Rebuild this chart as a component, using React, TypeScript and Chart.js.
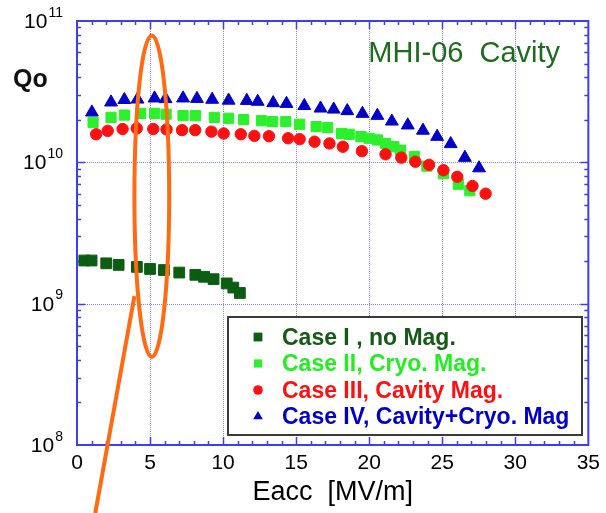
import React, { useEffect, useRef } from "react";
import { Chart, registerables } from "chart.js";

Chart.register(...registerables);

// ---------- data ----------
const xTickValues = [0, 5, 10, 15, 20, 25, 30, 35];
const xGridValues = [5, 10, 15, 20, 25, 30];
const yTickValues = [1e8, 1e9, 1e10, 1e11];
const yGridValues = [1e9, 1e10];
const yTickBase = "10";
const yTickExponents = ["8", "9", "10", "11"];
const xTitle = "Eacc  [MV/m]";
const yTitle = "Qo";
const chartNote = "MHI-06  Cavity";

const seriesLabels = [
  "Case I , no Mag.",
  "Case II, Cryo. Mag.",
  "Case III, Cavity Mag.",
  "Case IV, Cavity+Cryo. Mag",
];

const case1E = [0.5, 1.0, 2.0, 2.85, 4.1, 5.0, 5.95, 7.0, 8.1, 8.7, 9.35, 10.25, 10.7, 11.15];
const case1Q = [2.02e9, 2.02e9, 1.93e9, 1.88e9, 1.82e9, 1.76e9, 1.73e9, 1.66e9, 1.6e9, 1.55e9, 1.49e9, 1.39e9, 1.3e9, 1.19e9];

const case2E = [1.1, 2.33, 3.24, 4.36, 5.31, 6.1, 7.26, 8.1, 9.4, 10.38, 11.4, 12.64, 13.39, 14.29, 15.24, 16.37, 17.16, 18.11, 18.63, 19.43, 19.99, 20.56, 21.12, 21.69, 22.14, 23.09, 23.95, 25.08, 26.1, 26.89];
const case2Q = [1.92e10, 2.08e10, 2.16e10, 2.22e10, 2.22e10, 2.19e10, 2.14e10, 2.14e10, 2.08e10, 2.05e10, 2.01e10, 1.97e10, 1.94e10, 1.94e10, 1.86e10, 1.79e10, 1.76e10, 1.6e10, 1.58e10, 1.52e10, 1.48e10, 1.44e10, 1.36e10, 1.29e10, 1.22e10, 1.1e10, 9.4e9, 8.3e9, 7.0e9, 6.3e9];

const case3E = [1.31, 2.1, 3.12, 4.09, 5.22, 6.13, 7.19, 8.09, 9.2, 10.04, 11.21, 12.14, 13.14, 14.45, 15.24, 16.26, 17.28, 18.2, 19.5, 21.12, 22.2, 23.16, 24.1, 25.08, 26.03, 27.07, 27.97];
const case3Q = [1.58e10, 1.67e10, 1.72e10, 1.74e10, 1.72e10, 1.71e10, 1.69e10, 1.69e10, 1.65e10, 1.6e10, 1.58e10, 1.54e10, 1.53e10, 1.48e10, 1.46e10, 1.4e10, 1.36e10, 1.29e10, 1.2e10, 1.14e10, 1.08e10, 1.01e10, 9.6e9, 8.8e9, 7.9e9, 6.8e9, 6.0e9];

const case4E = [1.02, 2.33, 3.24, 4.14, 5.31, 6.06, 7.26, 8.21, 9.25, 10.38, 11.62, 12.37, 13.43, 14.34, 15.56, 16.67, 17.57, 18.5, 19.54, 20.56, 21.55, 22.64, 23.68, 24.65, 25.58, 26.55, 27.52];
const case4Q = [2.26e10, 2.66e10, 2.77e10, 2.79e10, 2.84e10, 2.81e10, 2.84e10, 2.82e10, 2.78e10, 2.74e10, 2.73e10, 2.69e10, 2.63e10, 2.6e10, 2.51e10, 2.41e10, 2.37e10, 2.31e10, 2.21e10, 2.14e10, 1.95e10, 1.83e10, 1.68e10, 1.52e10, 1.35e10, 1.08e10, 9.1e9];

// annotation (orange ellipse and stroke) in data units
const ellipseCenterE = 5.12;
const ellipseHalfWidthE = 1.19;
const ellipseTopQ = 7.9e10;
const ellipseBottomQ = 4.2e8;
const strokeStart = { e: 1.25, q: 3.3e7 };
const strokeEnd = { e: 3.93, q: 1.13e9 };

// ---------- styles ----------
const FONT = "Arial, 'Liberation Sans', Helvetica, sans-serif";
const AXIS_COLOR = "#3d3df2";
const GRID_COLOR = "#8585f0";
const seriesColors = ["#0b5d12", "#2bf02b", "#ff1010", "#0000c8"];
const textColors = ["#145a14", "#22ee22", "#ff1010", "#0000c8"];
const seriesStyles = ["rect", "rect", "circle", "triangle"];
const seriesRadius = [7.6, 7.2, 5.7, 7.4];
const legendRadius = [6.2, 5.8, 4.8, 5.6];
const seriesOrder = [3, 2, 0, 1];
const ORANGE = "#ff6a12";

function drawMarker(ctx: CanvasRenderingContext2D, style: string, x: number, y: number, r: number, color: string) {
  ctx.fillStyle = color;
  ctx.beginPath();
  if (style === "rect") {
    const s = r * Math.SQRT1_2;
    ctx.rect(x - s, y - s, 2 * s, 2 * s);
  } else if (style === "circle") {
    ctx.arc(x, y, r, 0, Math.PI * 2);
  } else {
    const a = (2 * Math.PI) / 3;
    ctx.moveTo(x, y - r);
    ctx.lineTo(x + Math.sin(a) * r, y + r / 2);
    ctx.lineTo(x - Math.sin(a) * r, y + r / 2);
    ctx.closePath();
  }
  ctx.fill();
}

const framePlugin = {
  id: "frame",
  beforeDatasetsDraw(chart: any) {
    const { ctx, chartArea } = chart;
    const { left, right, top, bottom } = chartArea;
    const xs = chart.scales.x;
    const ys = chart.scales.y;
    ctx.save();
    // dotted grid
    ctx.strokeStyle = GRID_COLOR;
    ctx.lineWidth = 1;
    ctx.setLineDash([1, 1]);
    xGridValues.forEach((v) => {
      const px = Math.round(xs.getPixelForValue(v)) + 0.5;
      ctx.beginPath();
      ctx.moveTo(px, top);
      ctx.lineTo(px, bottom);
      ctx.stroke();
    });
    yGridValues.forEach((v) => {
      const py = Math.round(ys.getPixelForValue(v)) + 0.5;
      ctx.beginPath();
      ctx.moveTo(left, py);
      ctx.lineTo(right, py);
      ctx.stroke();
    });
    ctx.setLineDash([]);
    // inward ticks
    ctx.strokeStyle = AXIS_COLOR;
    ctx.lineWidth = 1.5;
    const xMin = xTickValues[0];
    const xMax = xTickValues[xTickValues.length - 1];
    for (let v = xMin + 1; v < xMax; v++) {
      const len = v % 5 === 0 ? 8 : 4;
      const px = Math.round(xs.getPixelForValue(v)) + 0.5;
      ctx.beginPath();
      ctx.moveTo(px, bottom);
      ctx.lineTo(px, bottom - len);
      ctx.moveTo(px, top);
      ctx.lineTo(px, top + len);
      ctx.stroke();
    }
    for (let d = 0; d < yTickValues.length - 1; d++) {
      for (let k = 1; k < 10; k++) {
        const v = yTickValues[d] * k;
        const len = k === 1 ? 8 : 4;
        if (k === 1 && d === 0) continue;
        const py = Math.round(ys.getPixelForValue(v)) + 0.5;
        ctx.beginPath();
        ctx.moveTo(left, py);
        ctx.lineTo(left + len, py);
        ctx.moveTo(right, py);
        ctx.lineTo(right - len, py);
        ctx.stroke();
      }
    }
    // frame
    ctx.lineWidth = 2;
    ctx.strokeRect(left, top, right - left, bottom - top);
    ctx.restore();
  },
};

const overlayPlugin = {
  id: "overlay",
  afterDraw(chart: any) {
    const { ctx, chartArea } = chart;
    const { left, right, top } = chartArea;
    const xs = chart.scales.x;
    const ys = chart.scales.y;
    ctx.save();

    // y tick labels with superscript exponents
    const labelRight = left - 14;
    yTickValues.forEach((v, i) => {
      const py = ys.getPixelForValue(v);
      ctx.fillStyle = "#000";
      ctx.textBaseline = "alphabetic";
      ctx.font = `14px ${FONT}`;
      const ew = ctx.measureText(yTickExponents[i]).width;
      ctx.textAlign = "left";
      ctx.fillText(yTickExponents[i], labelRight - ew, py - 4.5);
      ctx.font = `21px ${FONT}`;
      ctx.textAlign = "right";
      ctx.fillText(yTickBase, labelRight - ew - 1, py + 7);
    });

    // y title
    ctx.font = `bold 25px ${FONT}`;
    ctx.fillStyle = "#111";
    ctx.textAlign = "left";
    ctx.fillText(yTitle, 13, 87);

    // note
    ctx.font = `29px ${FONT}`;
    ctx.fillStyle = "#1d6b1d";
    ctx.fillText(chartNote, right - 220, top + 40.5);

    // legend
    const bx = 228, by = 317, bw = 354, bh = 118;
    ctx.fillStyle = "#fff";
    ctx.fillRect(bx, by, bw, bh);
    ctx.strokeStyle = "#3a3a3a";
    ctx.lineWidth = 2;
    ctx.strokeRect(bx, by, bw, bh);
    ctx.font = `bold 23px ${FONT}`;
    seriesLabels.forEach((lab, i) => {
      const ry = by + 20 + i * 26.5;
      drawMarker(ctx, seriesStyles[i], bx + 30, ry, legendRadius[i], seriesColors[i]);
      ctx.fillStyle = textColors[i];
      ctx.textAlign = "left";
      ctx.fillText(lab, bx + 54, ry + 7.5);
    });

    // orange ellipse
    const cx = xs.getPixelForValue(ellipseCenterE);
    const rx = xs.getPixelForValue(ellipseCenterE + ellipseHalfWidthE) - cx;
    const yTop = ys.getPixelForValue(ellipseTopQ);
    const yBot = ys.getPixelForValue(ellipseBottomQ);
    ctx.strokeStyle = ORANGE;
    ctx.lineWidth = 4;
    ctx.beginPath();
    ctx.ellipse(cx, (yTop + yBot) / 2, rx, (yBot - yTop) / 2, 0, 0, Math.PI * 2);
    ctx.stroke();
    // orange stroke
    ctx.beginPath();
    ctx.moveTo(xs.getPixelForValue(strokeStart.e), ys.getPixelForValue(strokeStart.q));
    ctx.lineTo(xs.getPixelForValue(strokeEnd.e), ys.getPixelForValue(strokeEnd.q));
    ctx.stroke();

    ctx.restore();
  },
};

export default function App() {
  const ref = useRef<HTMLCanvasElement>(null);
  useEffect(() => {
    const canvas = ref.current;
    if (!canvas) return;
    const Es = [case1E, case2E, case3E, case4E];
    const Qs = [case1Q, case2Q, case3Q, case4Q];
    const datasets = seriesLabels.map((label, i) => ({
      label,
      data: Es[i].map((e, j) => ({ x: e, y: Qs[i][j] })),
      pointStyle: seriesStyles[i],
      pointRadius: seriesRadius[i],
      pointHoverRadius: seriesRadius[i],
      backgroundColor: seriesColors[i],
      borderColor: seriesColors[i],
      pointBorderWidth: 1,
      showLine: false,
      order: seriesOrder[i],
    }));
    const chart = new Chart(canvas, {
      type: "scatter",
      data: { datasets } as any,
      options: {
        animation: false,
        responsive: true,
        maintainAspectRatio: false,
        layout: { padding: { top: 21, right: 13, left: 0, bottom: 0 } },
        plugins: { legend: { display: false }, tooltip: { enabled: false } },
        scales: {
          x: {
            type: "linear",
            min: xTickValues[0],
            max: xTickValues[xTickValues.length - 1],
            afterBuildTicks: (s: any) => {
              s.ticks = xTickValues.map((v) => ({ value: v }));
            },
            ticks: {
              font: { size: 21, family: FONT },
              color: "#000",
              padding: 6,
              maxRotation: 0,
              autoSkip: false,
            },
            grid: { display: false, drawTicks: false },
            border: { display: false },
            title: {
              display: true,
              text: xTitle,
              font: { size: 27, family: FONT },
              color: "#000",
              padding: { top: 0, bottom: 4 },
            },
            afterFit: (s: any) => {
              s.height = 68;
            },
          },
          y: {
            type: "logarithmic",
            min: yTickValues[0],
            max: yTickValues[yTickValues.length - 1],
            afterBuildTicks: (s: any) => {
              s.ticks = yTickValues.map((v) => ({ value: v }));
            },
            ticks: { display: false },
            grid: { display: false, drawTicks: false },
            border: { display: false },
            afterFit: (s: any) => {
              s.width = 77;
            },
          },
        },
      } as any,
      plugins: [framePlugin, overlayPlugin],
    });
    return () => chart.destroy();
  }, []);
  return (
    <div style={{ position: "absolute", left: 0, top: 0, width: 606, height: 513, background: "#fff" }}>
      <canvas ref={ref} />
    </div>
  );
}
